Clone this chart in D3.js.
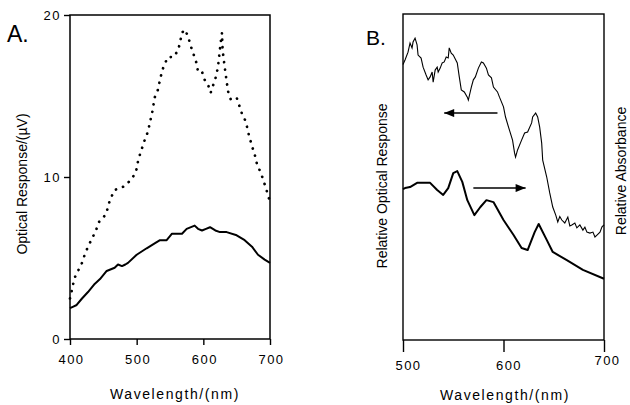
<!doctype html>
<html>
<head>
<script src="https://d3js.org/d3.v7.min.js"></script>
<style>
body { margin: 0; background: #fff; }
svg { display: block; font-family: "Liberation Sans", Arial, sans-serif; }
.tick text { font-size: 13px; letter-spacing: 1.5px; fill: #000; }
.tick line { stroke: #000; stroke-width: 1.4; }
.lbl { font-size: 14px; fill: #000; }
</style>
</head>
<body>
<svg width="630" height="405"></svg>
<script>

// panel A: optical response (uV) vs wavelength (nm)
var aWavelengthDotted = [400, 401, 404, 406, 418, 422, 427, 433, 439, 443, 454, 460, 467, 480, 491, 499, 501, 505, 509, 513, 517, 520, 523, 527, 532, 535, 538, 541, 547, 555, 562, 565, 568, 572, 577, 581, 586, 590, 592, 598, 602, 607, 611, 615, 619, 622, 626, 628, 629, 632, 635, 637, 641, 650, 654, 658, 664, 667, 673, 677, 681, 686, 690, 694, 699, 700];
var aDotted = [2.5, 2.7, 3.2, 3.7, 4.7, 5.2, 5.7, 6.2, 6.7, 7.2, 7.7, 8.6, 9.2, 9.4, 9.8, 10.3, 10.8, 11.4, 11.9, 12.4, 12.8, 13.4, 13.9, 14.9, 15.4, 16.0, 16.5, 16.9, 17.4, 17.4, 17.8, 18.3, 18.9, 19.1, 18.7, 18.1, 17.5, 17.0, 16.5, 16.5, 16.0, 15.7, 15.2, 15.7, 16.2, 16.8, 18.3, 18.9, 17.8, 16.8, 15.9, 15.3, 14.8, 14.9, 14.4, 13.9, 13.4, 12.8, 11.9, 11.4, 10.7, 10.3, 9.8, 9.3, 8.6, 8.5];

var aWavelengthSolid = [400, 405, 410, 418, 427, 437, 445, 455, 467, 472, 478, 483, 487, 500, 515, 527, 535, 545, 553, 568, 575, 587, 592, 598, 604, 610, 618, 625, 635, 650, 662, 673, 682, 692, 700];
var aSolid = [1.9, 2.0, 2.1, 2.5, 2.9, 3.4, 3.7, 4.2, 4.4, 4.6, 4.5, 4.6, 4.7, 5.2, 5.6, 5.9, 6.1, 6.1, 6.5, 6.5, 6.8, 7.0, 6.8, 6.7, 6.8, 6.9, 6.7, 6.6, 6.6, 6.4, 6.1, 5.7, 5.2, 4.9, 4.7];

var aXTicks = [400, 500, 600, 700];
var aYTicks = [0, 10, 20];

// panel B: relative optical response (thin) and relative absorbance (thick), arbitrary units
var bWavelengthResp = [500, 502, 505, 507, 509, 510, 512, 514, 515, 518, 520, 523, 525, 527, 529, 530, 532, 534, 535, 537, 539, 541, 543, 545, 546, 548, 550, 554, 556, 558, 561, 564, 565, 568, 570, 572, 575, 578, 580, 583, 585, 588, 590, 594, 596, 600, 602, 605, 609, 611, 612, 614, 618, 621, 624, 628, 629, 632, 634, 636, 638, 639, 643, 646, 649, 652, 654, 656, 658, 661, 664, 666, 668, 671, 673, 676, 679, 681, 683, 686, 689, 691, 693, 696, 698, 700];
var bResponse = [84.5, 85.9, 88.3, 91.1, 89.6, 91.4, 92.6, 90.5, 87.4, 86.5, 83.7, 81.3, 79.8, 80.7, 82.2, 79.1, 82.8, 83.7, 82.2, 83.4, 85.0, 85.3, 86.8, 86.5, 89.6, 88.0, 87.4, 85.0, 80.7, 76.7, 76.1, 74.5, 73.6, 77.6, 79.8, 80.7, 83.4, 85.3, 85.0, 83.4, 81.3, 80.4, 77.6, 76.1, 74.5, 71.5, 68.4, 65.3, 61.3, 57.4, 56.1, 58.3, 61.3, 63.5, 63.8, 66.6, 68.4, 69.6, 68.4, 65.3, 60.4, 55.2, 50.0, 45.1, 40.8, 38.3, 36.2, 37.9, 36.8, 35.9, 37.7, 35.0, 35.3, 35.9, 34.4, 35.3, 33.7, 34.6, 33.1, 32.8, 33.1, 31.6, 32.2, 33.1, 34.7, 35.3];

var bWavelengthAbs = [500, 502, 507, 514, 520, 527, 534, 540, 545, 550, 554, 559, 564, 571, 577, 583, 590, 600, 610, 618, 624, 631, 635, 643, 649, 663, 679, 700];
var bAbsorbance = [46.3, 46.6, 46.9, 48.2, 48.2, 48.2, 46.0, 44.5, 46.6, 51.2, 51.8, 48.5, 42.9, 38.3, 40.8, 42.9, 42.3, 36.8, 32.2, 28.2, 27.6, 33.1, 35.6, 30.7, 27.0, 24.5, 21.5, 18.8];

var bXTicks = [500, 600, 700];
// arrows: which axis each curve belongs to (wavelength from, to, level)
var bArrows = [[594, 541, 69.6], [570, 622, 46.6]];

var svg = d3.select("svg");

// ---------- panel A ----------
var ax = d3.scaleLinear().domain([400, 700]).range([70, 270]);
var ay = d3.scaleLinear().domain([0, 20]).range([339, 15]);

var gA = svg.append("g");

gA.append("g")
	.attr("transform", "translate(0,339)")
	.call(d3.axisBottom(ax).tickValues(aXTicks).tickSize(6).tickPadding(10))
	.call(g => g.select(".domain").remove())
	.call(g => g.selectAll(".tick text").attr("dx", 1));

gA.append("g")
	.attr("transform", "translate(70,0)")
	.call(d3.axisLeft(ay).tickValues(aYTicks).tickSize(6).tickPadding(3))
	.call(g => g.select(".domain").remove());

gA.append("rect")
	.attr("x", ax(400)).attr("y", ay(20))
	.attr("width", ax(700) - ax(400)).attr("height", ay(0) - ay(20))
	.attr("fill", "none").attr("stroke", "#000").attr("stroke-width", 1.5);

var lineA = d3.line().curve(d3.curveLinear);

gA.append("path")
	.attr("d", lineA(aWavelengthDotted.map((w, i) => [ax(w), ay(aDotted[i])])))
	.attr("fill", "none").attr("stroke", "#000")
	.attr("stroke-width", 2.7).attr("stroke-linecap", "round")
	.attr("stroke-dasharray", "0.1,7.4");

gA.append("path")
	.attr("d", lineA(aWavelengthSolid.map((w, i) => [ax(w), ay(aSolid[i])])))
	.attr("fill", "none").attr("stroke", "#000")
	.attr("stroke-width", 2).attr("stroke-linejoin", "round");

gA.append("text").attr("class", "lbl")
	.attr("x", 7).attr("y", 42)
	.style("font-size", "23px").text("A.");

gA.append("text").attr("class", "lbl")
	.attr("transform", "translate(27,184) rotate(-90)")
	.attr("text-anchor", "middle")
	.text("Optical Response/(\u00b5V)");

gA.append("text").attr("class", "lbl")
	.attr("x", 175).attr("y", 399)
	.attr("text-anchor", "middle").style("letter-spacing", "1.6px")
	.text("Wavelength/(nm)");

// ---------- panel B ----------
var bx = d3.scaleLinear().domain([500, 700]).range([403, 604]);
var by = d3.scaleLinear().domain([0, 100]).range([340, 14]);

var gB = svg.append("g");

gB.append("g")
	.attr("transform", "translate(0,340)")
	.call(d3.axisBottom(bx).tickValues(bXTicks).tickSize(12).tickPadding(9))
	.call(g => g.select(".domain").remove())
	.call(g => g.selectAll(".tick text").attr("dx", d => d === 700 ? 3 : 5).attr("dy", d => d === 700 ? "0.3em" : "0.71em"));

gB.append("rect")
	.attr("x", bx(500)).attr("y", by(100))
	.attr("width", bx(700) - bx(500)).attr("height", by(0) - by(100))
	.attr("fill", "none").attr("stroke", "#000").attr("stroke-width", 1.4);

gB.append("path")
	.attr("d", lineA(bWavelengthResp.map((w, i) => [bx(w), by(bResponse[i])])))
	.attr("fill", "none").attr("stroke", "#000").attr("stroke-width", 1.1);

gB.append("path")
	.attr("d", lineA(bWavelengthAbs.map((w, i) => [bx(w), by(bAbsorbance[i])])))
	.attr("fill", "none").attr("stroke", "#000")
	.attr("stroke-width", 2).attr("stroke-linejoin", "round");

svg.append("defs").append("marker")
	.attr("id", "head").attr("viewBox", "0 0 10 8")
	.attr("refX", 10).attr("refY", 4)
	.attr("markerWidth", 11).attr("markerHeight", 8)
	.attr("markerUnits", "userSpaceOnUse")
	.attr("orient", "auto")
	.append("path").attr("d", "M0,0L10,4L0,8Z").attr("fill", "#000");

gB.selectAll(".arrow").data(bArrows).enter().append("line")
	.attr("class", "arrow")
	.attr("x1", d => bx(d[0])).attr("x2", d => bx(d[1]))
	.attr("y1", d => by(d[2])).attr("y2", d => by(d[2]))
	.attr("stroke", "#000").attr("stroke-width", 1.5)
	.attr("marker-end", "url(#head)");

gB.append("text").attr("class", "lbl")
	.attr("x", 366).attr("y", 45)
	.style("font-size", "21px").text("B.");

gB.append("text").attr("class", "lbl")
	.attr("transform", "translate(387,186) rotate(-90)")
	.attr("text-anchor", "middle")
	.text("Relative Optical Response");

gB.append("text").attr("class", "lbl")
	.attr("transform", "translate(626,171) rotate(-90)")
	.attr("text-anchor", "middle")
	.text("Relative Absorbance");

gB.append("text").attr("class", "lbl")
	.attr("x", 505).attr("y", 400)
	.attr("text-anchor", "middle").style("letter-spacing", "1.6px")
	.text("Wavelength/(nm)");

</script>
</body>
</html>
